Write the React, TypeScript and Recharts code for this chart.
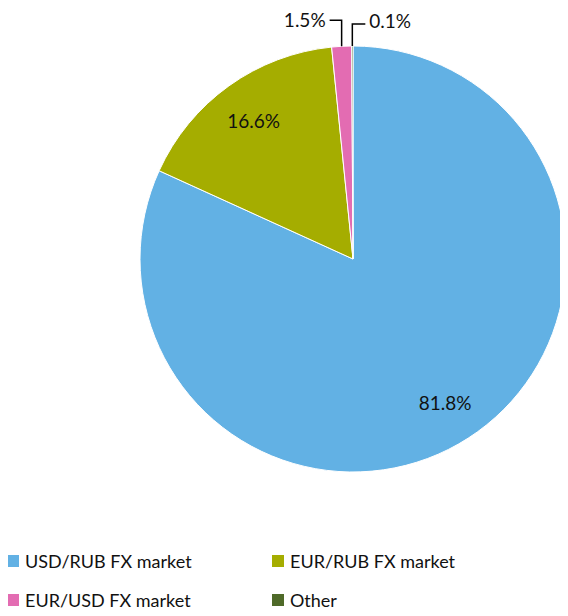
import { PieChart, Pie, Cell, Legend } from "recharts";

const markets = ["USD/RUB FX market", "EUR/RUB FX market", "EUR/USD FX market", "Other"];
const shares = [81.8, 16.6, 1.5, 0.1];
const COLORS = ["#62B1E4", "#A5AD00", "#E36CB2", "#4F6A29"];

const data = markets.map((name, i) => ({ name, value: shares[i] }));

const FONT = "Lato, 'Open Sans', sans-serif";
const RAD = Math.PI / 180;

const renderLabel = (props: any) => {
  const { cx, cy, midAngle, outerRadius, index, value } = props;
  const text = `${value.toFixed(1)}%`;
  if (index < 2) {
    const r = outerRadius * 0.8;
    const x = cx + r * Math.cos(-midAngle * RAD);
    const y = cy + r * Math.sin(-midAngle * RAD);
    return (
      <text x={x} y={y} fill="#111" fontSize={19} fontFamily={FONT} textAnchor="middle" dominantBaseline="central">
        {text}
      </text>
    );
  }
  // small slices: elbow leader line above the pie
  const x0 = cx + outerRadius * Math.cos(-midAngle * RAD);
  const y0 = cy + outerRadius * Math.sin(-midAngle * RAD);
  const up = index === 2 ? 26 : 22;
  const dx = index === 2 ? -12 : 13;
  const y1 = y0 - up;
  const x2 = x0 + dx;
  return (
    <g>
      <polyline points={`${x0},${y0} ${x0},${y1} ${x2},${y1}`} fill="none" stroke="#000" strokeWidth={1.5} />
      <text
        x={x2 + (index === 2 ? -4 : 4)}
        y={index === 2 ? y1 - 1 : y1 - 4}
        fill="#111"
        fontSize={19}
        fontFamily={FONT}
        textAnchor={index === 2 ? "end" : "start"}
        dominantBaseline="central"
      >
        {text}
      </text>
    </g>
  );
};

const renderLegend = () => (
  <div style={{ position: "relative", width: 560, height: 60, fontFamily: FONT, fontSize: 18, color: "#111" }}>
    {markets.map((name, i) => (
      <div
        key={name}
        style={{
          position: "absolute",
          left: i % 2 === 0 ? -1 : 264,
          top: i < 2 ? 0 : 39,
          display: "flex",
          alignItems: "center",
          whiteSpace: "nowrap",
        }}
      >
        <span style={{ display: "inline-block", width: 12, height: 12, background: COLORS[i], marginRight: 6 }} />
        <span>{name}</span>
      </div>
    ))}
  </div>
);

export default function App() {
  return (
    <PieChart width={560} height={608} margin={{ top: 0, right: 0, bottom: 0, left: 0 }}>
      <Pie
        data={data}
        dataKey="value"
        nameKey="name"
        cx={345}
        cy={251}
        outerRadius={213}
        startAngle={90}
        endAngle={-270}
        stroke="#fff"
        strokeWidth={1}
        label={renderLabel}
        labelLine={false}
        isAnimationActive={false}
      >
        {data.map((_, i) => (
          <Cell key={i} fill={COLORS[i]} />
        ))}
      </Pie>
      <Legend content={renderLegend} wrapperStyle={{ top: 542, left: 0 }} />
    </PieChart>
  );
}
